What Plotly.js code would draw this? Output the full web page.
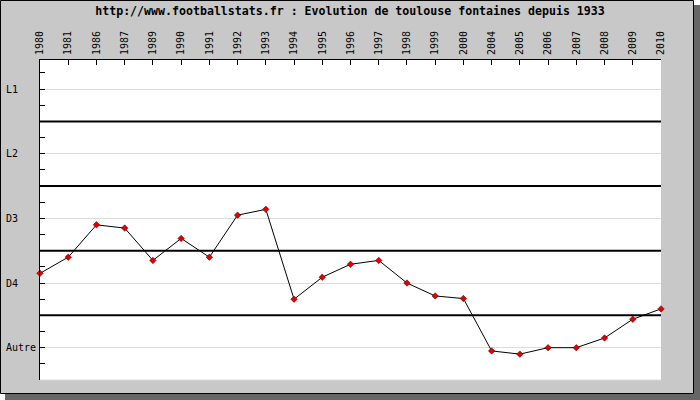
<!DOCTYPE html>
<html>
<head>
<meta charset="utf-8">
<script src="https://cdn.plot.ly/plotly-3.0.1.min.js"></script>
<style>html,body{margin:0;padding:0;background:#fff;}#chart{width:700px;height:400px;}</style>
</head>
<body>
<div id="chart"></div>
<script>
var seasons = ["1980","1981","1986","1987","1989","1990","1991","1992","1993","1994","1995","1996","1997","1998","1999","2000","2004","2005","2006","2007","2008","2009","2010"];
var levels = [2.15,2.40,2.90,2.85,2.35,2.69,2.40,3.05,3.14,1.75,2.09,2.29,2.35,2.00,1.80,1.76,0.95,0.90,1.00,1.00,1.15,1.44,1.60];
var divisionVals = [1,2,3,4,5];
var divisionNames = ["Autre","D4","D3","L2","L1"];
var separators = [1.5,2.5,3.5,4.5];

var W = 700, H = 400, L = 40, R = 39, T = 60, B = 20;
var pw = W - L - R, ph = H - T - B;
function px(x){ return (x - L) / pw; }
function py(y){ return (H - B - y) / ph; }

// left-align labels in the monospace font by padding with non-breaking spaces
var padded = divisionNames.map(function(s){
  var out = s; while (out.length < 5) out += '\u00a0'; return out;
});

var shapes = [];
separators.forEach(function(v){
  shapes.push({type:'line', xref:'paper', yref:'y', x0:0, x1:1, y0:v, y1:v, line:{color:'#000', width:2}, layer:'below'});
});
shapes.push({type:'line', xref:'paper', yref:'paper', x0:0, x1:1, y0:0, y1:0, line:{color:'#dcdcdc', width:1}, layer:'below'});
// frame shadow and border
shapes.push({type:'rect', xref:'paper', yref:'paper', x0:px(694), x1:px(701), y0:py(-1), y1:py(5), fillcolor:'#fff', line:{width:0}});
shapes.push({type:'rect', xref:'paper', yref:'paper', x0:px(-1), x1:px(5), y0:py(394), y1:py(401), fillcolor:'#fff', line:{width:0}});
shapes.push({type:'rect', xref:'paper', yref:'paper', x0:px(694), x1:px(701), y0:py(5), y1:py(401), fillcolor:'#666', line:{width:0}});
shapes.push({type:'rect', xref:'paper', yref:'paper', x0:px(5), x1:px(701), y0:py(394), y1:py(401), fillcolor:'#666', line:{width:0}});
shapes.push({type:'rect', xref:'paper', yref:'paper', x0:px(0.5), x1:px(693.5), y0:py(0.5), y1:py(393.5), line:{color:'#000', width:1}});

var trace = {
  x: seasons, y: levels, type:'scatter', mode:'lines+markers',
  line:{color:'#000', width:1},
  marker:{symbol:'diamond', size:5, color:'#e00000', line:{color:'#400', width:0.5}},
  hoverinfo:'skip', cliponaxis:false
};

var mono = "DejaVu Sans Mono, monospace";
var layout = {
  width: W, height: H,
  margin:{l:L, r:R, t:T, b:B, pad:0},
  paper_bgcolor:'#c8c8c8', plot_bgcolor:'#fff',
  showlegend:false,
  title:{text:'<b>http://www.footballstats.fr : Evolution de toulouse fontaines depuis 1933</b>', font:{family:mono, size:11.6, color:'#000'}, x:0.5, xref:'container', xanchor:'center', y:1-11/400, yref:'container', yanchor:'middle'},
  xaxis:{type:'category', side:'top', range:[0,22], tickangle:-90, tickfont:{family:mono, size:10, color:'#000'},
    showline:true, linecolor:'#000', linewidth:1, ticks:'inside', ticklen:5, tickcolor:'#000', showgrid:false, zeroline:false, fixedrange:true, ticklabelstandoff:2},
  yaxis:{range:[0.5,5.45], tickmode:'array', tickvals:divisionVals, ticktext:padded, tickfont:{family:mono, size:10, color:'#000'},
    showline:true, linecolor:'#000', linewidth:1, ticks:'inside', ticklen:5, tickcolor:'#000',
    showgrid:true, gridcolor:'#dcdcdc', gridwidth:1, zeroline:false, fixedrange:true, ticklabelstandoff:1,
    minor:{tickmode:'linear', tick0:0.25, dtick:0.25, ticks:'inside', ticklen:5, tickcolor:'#000', showgrid:false}},
  shapes: shapes
};

Plotly.newPlot('chart', [trace], layout, {staticPlot:true, displayModeBar:false});
</script>
</body>
</html>
